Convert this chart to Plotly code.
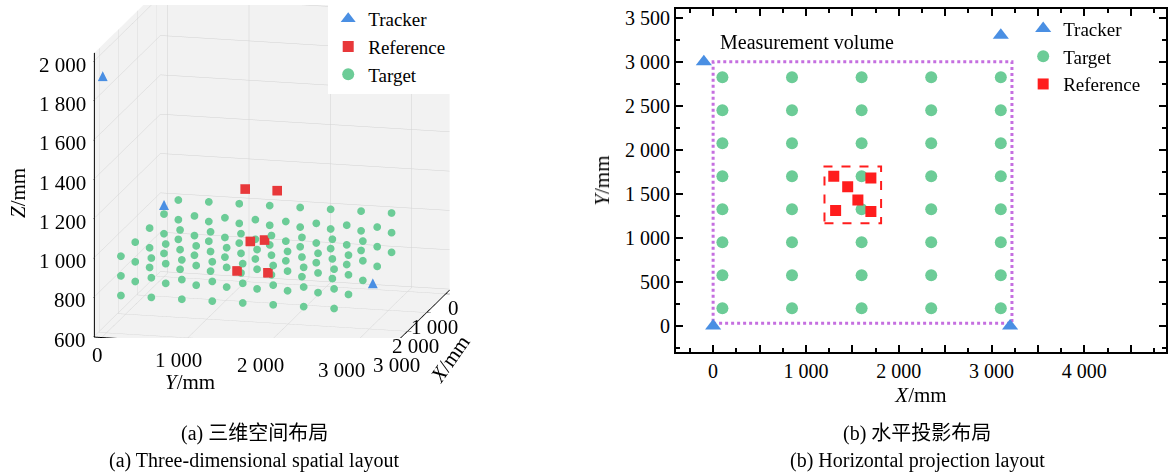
import plotly.graph_objects as go

# ---------------- data (mm) ----------------
target_x = [100, 850, 1600, 2350, 3100]
target_y = [200, 575, 950, 1325, 1700, 2075, 2450, 2825]
target_z = [800, 900, 1000]

reference_x = [1300, 1700, 1450, 1560, 1320, 1700]
reference_y = [1700, 1680, 1580, 1430, 1310, 1300]
reference_z = [1200, 820, 960, 960, 1200, 820]

tracker_x = [0, 3200, -100, 3100]
tracker_y = [0, 0, 3000, 3300]
tracker_z = [960, 1920, 1900, 940]

volume_x = [0, 3220]
volume_y = [30, 3000]
ref_box_x = [1200, 1810]
ref_box_y = [1165, 1810]

x_ticks_2d = list(range(0, 4501, 500))
y_ticks_2d = list(range(0, 3501, 500))
ticks_3d_xy = [0, 1000, 2000, 3000]
ticks_3d_z = list(range(600, 2001, 200))

# axis limits of the 3-D box
x3_range = [-200, 3250]
y3_range = [-90, 3470]
z3_range = [595, 2040]

# ---------------- styling ----------------
BLUE = "#4a8fe3"
RED3D = "#e8383a"
RED = "#ff1d1d"
GREEN = "#6ccc97"
VIOLET = "#c56fe0"
SERIF = "Liberation Serif, Times New Roman, serif"
CAPTION_FONT = "Liberation Serif, Noto Sans CJK SC, serif"


def fmt(v):
    return f"{v:,}".replace(",", " ")


# full 3-D grid of targets
gx, gy, gz = [], [], []
for z in target_z:
    for x in target_x:
        for y in target_y:
            gx.append(x)
            gy.append(y)
            gz.append(z)

fig = go.Figure()

# ---- (a) 3-D layout ----
# legend entries of the 3-D panel
fig.add_trace(go.Scatter(x=[None], y=[None], mode="markers", name="Tracker", legend="legend",
                         marker=dict(symbol="triangle-up", size=13, color=BLUE)))
fig.add_trace(go.Scatter(x=[None], y=[None], mode="markers", name="Reference", legend="legend",
                         marker=dict(symbol="square", size=11, color=RED3D)))
fig.add_trace(go.Scatter(x=[None], y=[None], mode="markers", name="Target", legend="legend",
                         marker=dict(symbol="circle", size=12, color=GREEN)))

fig.add_trace(go.Scatter3d(x=reference_x, y=reference_y, z=reference_z, mode="markers",
                           showlegend=False, name="Reference",
                           marker=dict(symbol="square", size=5, color=RED3D, line=dict(width=0))))
fig.add_trace(go.Scatter3d(x=gx, y=gy, z=gz, mode="markers", showlegend=False, name="Target",
                           marker=dict(symbol="circle", size=4.5, color=GREEN, line=dict(width=0))))
# scatter3d has no triangle symbol, so trackers are drawn as glyphs
fig.add_trace(go.Scatter3d(x=tracker_x, y=tracker_y, z=tracker_z, mode="text", text=["▲"] * len(tracker_x),
                           textposition="middle center",
                           textfont=dict(family="DejaVu Sans", size=13, color=BLUE),
                           showlegend=False, hoverinfo="skip", name="Tracker"))

# ---- (b) horizontal projection ----
fig.add_trace(go.Scatter(x=tracker_x, y=tracker_y, mode="markers", name="Tracker", legend="legend2",
                         marker=dict(symbol="triangle-up", size=14, color=BLUE), cliponaxis=False))
tx2 = [x for x in target_x for _ in target_y]
ty2 = [y for _ in target_x for y in target_y]
fig.add_trace(go.Scatter(x=tx2, y=ty2, mode="markers", name="Target", legend="legend2",
                         marker=dict(symbol="circle", size=12, color=GREEN)))
fig.add_trace(go.Scatter(x=reference_x, y=reference_y, mode="markers", name="Reference", legend="legend2",
                         marker=dict(symbol="square", size=11, color=RED)))

fig.add_shape(type="rect", xref="x", yref="y", x0=volume_x[0], x1=volume_x[1], y0=volume_y[0], y1=volume_y[1],
              line=dict(color=VIOLET, width=3, dash="dot"), layer="below")
fig.add_shape(type="rect", xref="x", yref="y", x0=ref_box_x[0], x1=ref_box_x[1], y0=ref_box_y[0], y1=ref_box_y[1],
              line=dict(color=RED, width=2, dash="dash"), layer="below")

axis3d = dict(
    showbackground=True, backgroundcolor="#f2f2f2", gridcolor="#d2d2d2", gridwidth=1,
    showline=True, linecolor="black", linewidth=2, zeroline=False,
    ticks="outside", tickcolor="black", ticklen=4, showticklabels=False,
    title=dict(text=""), showspikes=False,
)

# tick labels of the 3-D box, placed in data space
tick_font = dict(family=SERIF, size=21, color="black")
scene_ann = []
for v in ticks_3d_z:
    scene_ann.append(dict(x=x3_range[1], y=y3_range[0], z=v, text=fmt(v), showarrow=False,
                          xanchor="right", yanchor="middle", xshift=-6, yshift=-4, font=tick_font))
for v in ticks_3d_xy:
    scene_ann.append(dict(x=x3_range[1], y=v, z=z3_range[0], text=fmt(v), showarrow=False,
                          xanchor="center", yanchor="top", xshift=-4, yshift=-4, font=tick_font))
for v in ticks_3d_xy:
    scene_ann.append(dict(x=v, y=y3_range[1], z=z3_range[0], text=fmt(v), showarrow=False,
                          xanchor="center", yanchor="middle", xshift=8, yshift=-15, font=tick_font))

fig.update_layout(
    width=1168, height=476,
    margin=dict(l=0, r=0, t=0, b=0),
    paper_bgcolor="white", plot_bgcolor="white",
    font=dict(family=SERIF, size=20, color="black"),
    scene=dict(
        domain=dict(x=[7 / 1168, 537 / 1168], y=[0.294, 1.0]),
        xaxis=dict(axis3d, range=x3_range, tickvals=ticks_3d_xy),
        yaxis=dict(axis3d, range=y3_range, tickvals=ticks_3d_xy),
        zaxis=dict(axis3d, range=z3_range, tickvals=ticks_3d_z),
        aspectmode="manual", aspectratio=dict(x=1.639, y=1.79, z=1.76),
        camera=dict(eye=dict(x=2.353, y=0.587, z=0.61), up=dict(x=0, y=0, z=1),
                    center=dict(x=0, y=0, z=0), projection=dict(type="orthographic")),
        annotations=scene_ann,
    ),
    xaxis=dict(
        domain=[676 / 1168, 1166 / 1168], range=[-400, 4880],
        tickmode="array", tickvals=x_ticks_2d,
        ticktext=[fmt(v) if v % 1000 == 0 else "" for v in x_ticks_2d],
        ticks="inside", ticklen=7, tickwidth=1.5, tickcolor="black",
        minor=dict(ticks="inside", ticklen=4, tickwidth=1.5, tickcolor="black", tick0=0, dtick=250),
        showline=True, linecolor="black", linewidth=2, mirror="ticks",
        showgrid=False, zeroline=False,
        title=dict(text="<i>X</i>/mm", standoff=6, font=dict(size=21)),
    ),
    yaxis=dict(
        domain=[1 - 351 / 476, 1 - 4 / 476], range=[-300, 3600],
        tickmode="array", tickvals=y_ticks_2d, ticktext=[fmt(v) for v in y_ticks_2d],
        ticks="inside", ticklen=7, tickwidth=1.5, tickcolor="black",
        minor=dict(ticks="inside", ticklen=4, tickwidth=1.5, tickcolor="black", tick0=0, dtick=250),
        showline=True, linecolor="black", linewidth=2, mirror="ticks",
        showgrid=False, zeroline=False,
        title=dict(text="<i>Y</i>/mm", standoff=10, font=dict(size=21)),
    ),
    legend=dict(x=0.281, y=1.011, xanchor="left", yanchor="top", bgcolor="white",
                font=dict(family=SERIF, size=19), tracegroupgap=0, itemwidth=30),
    legend2=dict(x=0.876, y=0.990, xanchor="left", yanchor="top", bgcolor="rgba(0,0,0,0)",
                 font=dict(family=SERIF, size=19), tracegroupgap=0, itemwidth=30),
    showlegend=True,
)

annotations = [
    dict(text="Measurement volume", x=50, y=3220, xref="x", yref="y", xanchor="left", yanchor="middle",
         showarrow=False, font=dict(size=20)),
    dict(text="<i>Z</i>/mm", x=18 / 1168, y=1 - 190 / 476, xref="paper", yref="paper", textangle=-90,
         xanchor="center", yanchor="middle", showarrow=False, font=dict(size=21)),
    dict(text="<i>Y</i>/mm", x=190 / 1168, y=1 - 381 / 476, xref="paper", yref="paper",
         xanchor="center", yanchor="middle", showarrow=False, font=dict(size=21)),
    dict(text="<i>X</i>/mm", x=450 / 1168, y=1 - 358 / 476, xref="paper", yref="paper", textangle=-55,
         xanchor="center", yanchor="middle", showarrow=False, font=dict(size=21)),
    dict(text="(a) 三维空间布局", x=254 / 1168, y=1 - 433 / 476, xref="paper", yref="paper",
         xanchor="center", yanchor="middle", showarrow=False, font=dict(family=CAPTION_FONT, size=20)),
    dict(text="(a) Three-dimensional spatial layout", x=254 / 1168, y=1 - 460 / 476, xref="paper", yref="paper",
         xanchor="center", yanchor="middle", showarrow=False, font=dict(family=CAPTION_FONT, size=20)),
    dict(text="(b) 水平投影布局", x=917 / 1168, y=1 - 433 / 476, xref="paper", yref="paper",
         xanchor="center", yanchor="middle", showarrow=False, font=dict(family=CAPTION_FONT, size=20)),
    dict(text="(b) Horizontal projection layout", x=917 / 1168, y=1 - 460 / 476, xref="paper", yref="paper",
         xanchor="center", yanchor="middle", showarrow=False, font=dict(family=CAPTION_FONT, size=20)),
]
fig.update_layout(annotations=annotations)

fig.write_html("out.html")
